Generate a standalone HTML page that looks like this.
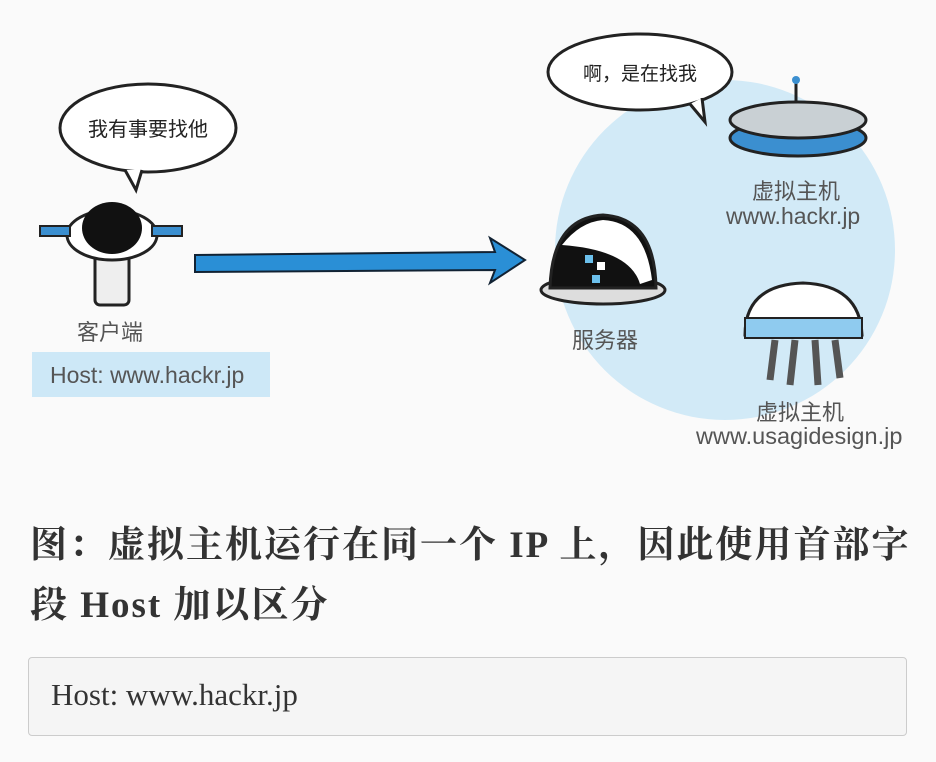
<!DOCTYPE html>
<html><head><meta charset="utf-8"><style>
body{margin:0;width:936px;height:762px;background:#fafafa;overflow:hidden;position:relative;font-family:"Liberation Sans","Noto Sans CJK SC",sans-serif}
.t{position:absolute;color:#555;white-space:nowrap}
.cap{position:absolute;left:30px;font-family:"Liberation Serif","Noto Serif CJK SC",serif;font-weight:bold;font-size:37px;letter-spacing:2px;color:#333;white-space:nowrap}
</style></head><body>
<svg width="936" height="470" style="position:absolute;left:0;top:0">
<circle cx="725" cy="250" r="170" fill="#d2eaf7"/>
<ellipse cx="148" cy="128" rx="88" ry="44" fill="#fff" stroke="#222" stroke-width="3"/>
<path d="M125 170 L136 190 L142 170" fill="#fff" stroke="#222" stroke-width="3"/>
<text x="148" y="136" text-anchor="middle" font-size="20" font-family="Noto Sans CJK SC" fill="#222">我有事要找他</text>
<ellipse cx="640" cy="72" rx="92" ry="38" fill="#fff" stroke="#222" stroke-width="3"/>
<path d="M690 104 L705 122 L702 98" fill="#fff" stroke="#222" stroke-width="3"/>
<text x="640" y="80" text-anchor="middle" font-size="19" font-family="Noto Sans CJK SC" fill="#222">啊，是在找我</text>
<rect x="95" y="250" width="34" height="55" rx="5" fill="#eee" stroke="#222" stroke-width="3"/>
<ellipse cx="112" cy="235" rx="45" ry="25" fill="#fff" stroke="#222" stroke-width="3"/>
<ellipse cx="112" cy="228" rx="30" ry="26" fill="#111"/>
<rect x="40" y="226" width="30" height="10" fill="#3b8fd0" stroke="#222" stroke-width="2"/>
<rect x="152" y="226" width="30" height="10" fill="#3b8fd0" stroke="#222" stroke-width="2"/>
<path d="M195 255 L495 252 L490 238 L525 260 L490 283 L495 270 L195 272 Z" fill="#2a8fd6" stroke="#123" stroke-width="2"/>
<ellipse cx="798" cy="138" rx="68" ry="18" fill="#3b8fd0" stroke="#222" stroke-width="3"/>
<ellipse cx="798" cy="120" rx="68" ry="18" fill="#c9d0d4" stroke="#222" stroke-width="3"/>
<line x1="796" y1="102" x2="796" y2="80" stroke="#222" stroke-width="3"/>
<circle cx="796" cy="80" r="4" fill="#3b8fd0"/>
<ellipse cx="603" cy="290" rx="62" ry="14" fill="#ddd" stroke="#222" stroke-width="3"/>
<path d="M550 288 Q552 218 603 215 Q655 218 656 288 Z" fill="#111" stroke="#222" stroke-width="3"/>
<path d="M562 245 Q580 222 603 220 Q645 222 652 280 L640 284 Q630 250 562 245Z" fill="#fff"/>
<rect x="585" y="255" width="8" height="8" fill="#6cc0ec"/><rect x="597" y="262" width="8" height="8" fill="#fff"/><rect x="592" y="275" width="8" height="8" fill="#6cc0ec"/>
<path d="M745 335 Q745 285 803 283 Q860 285 862 335 Z" fill="#fff" stroke="#222" stroke-width="3"/>
<rect x="745" y="318" width="117" height="20" fill="#8fcbef" stroke="#222" stroke-width="2"/>
<path d="M775 340 L770 380 M795 340 L790 385 M815 340 L818 385 M835 340 L840 378" stroke="#555" stroke-width="7"/>
</svg>
<div class="t" style="left:77px;top:315px;font-size:22px">客户端</div>
<div style="position:absolute;left:32px;top:352px;width:238px;height:45px;background:#cde8f7"></div>
<div class="t" style="left:50px;top:362px;font-size:23px">Host: www.hackr.jp</div>
<div class="t" style="left:752px;top:174px;font-size:22px">虚拟主机</div>
<div class="t" style="left:726px;top:203px;font-size:23px">www.hackr.jp</div>
<div class="t" style="left:572px;top:323px;font-size:22px">服务器</div>
<div class="t" style="left:756px;top:395px;font-size:22px">虚拟主机</div>
<div class="t" style="left:696px;top:423px;font-size:23.5px">www.usagidesign.jp</div>
<div class="cap" style="top:514px">图：虚拟主机运行在同一个 IP 上，因此使用首部字</div>
<div class="cap" style="top:574px">段 Host 加以区分</div>
<div style="position:absolute;left:28px;top:657px;width:877px;height:77px;background:#f5f5f5;border:1px solid #ccc;border-radius:4px"></div>
<div class="t" style="left:51px;top:677px;font-size:31px;color:#333;font-family:'Liberation Serif',serif">Host: www.hackr.jp</div>
</body></html>
